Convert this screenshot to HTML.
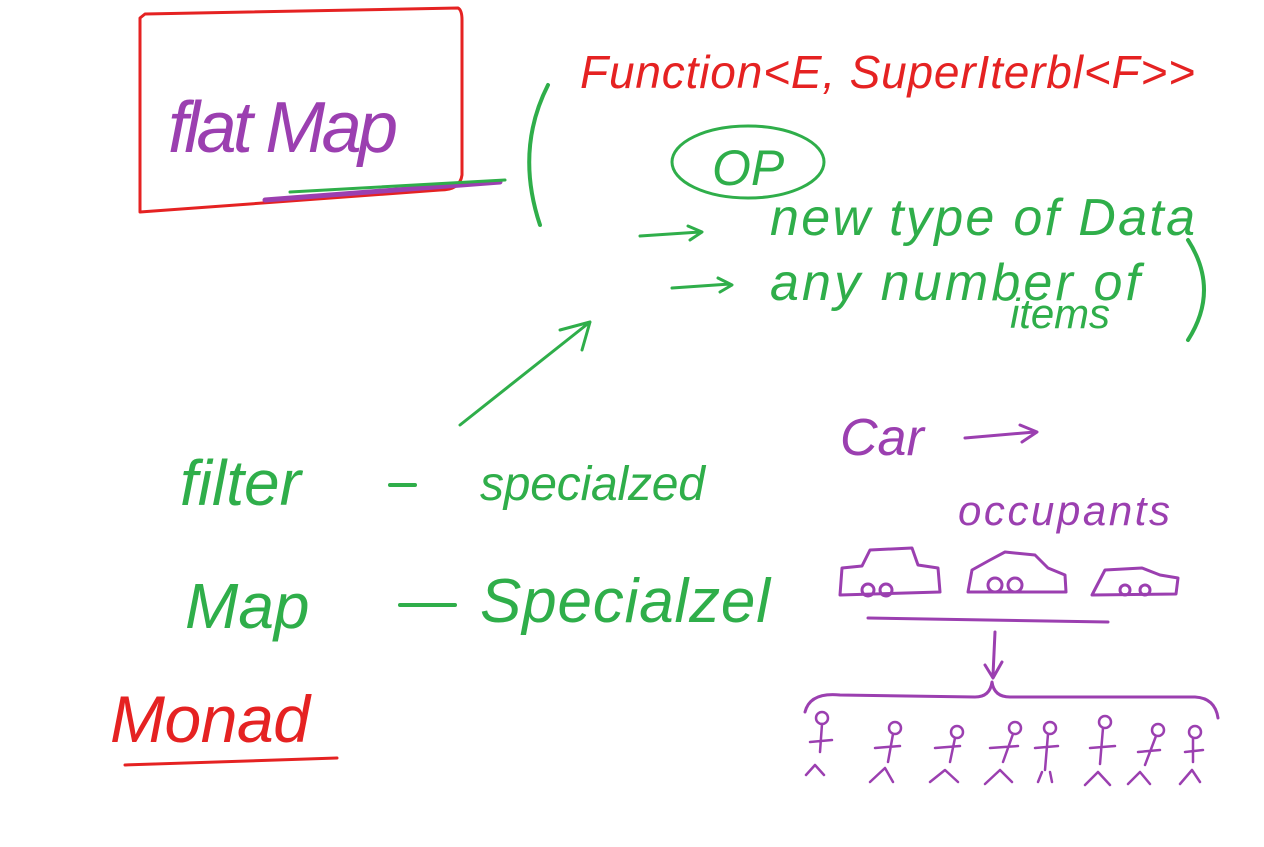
<!DOCTYPE html>
<html><head><meta charset="utf-8"><style>
html,body{margin:0;padding:0;background:#fff;width:1264px;height:847px;overflow:hidden}
svg{display:block}
text{font-family:"Liberation Sans",sans-serif;font-style:italic}
</style></head><body>
<svg width="1264" height="847" viewBox="0 0 1264 847" fill="none" stroke-linecap="round" stroke-linejoin="round">
<rect x="0" y="0" width="1264" height="847" fill="#fff" stroke="none"/>
<g>
<path d="M145 14 L458 8 Q462 10 462 20 L462 175 Q460 190 440 190 L140 212 L140 18 Z" stroke="#e52222" stroke-width="3"/>
<text x="168" y="152" font-size="72" fill="#9b3fb0" stroke="none" textLength="230">flat Map</text>
<path d="M265 200 L500 182" stroke="#9b3fb0" stroke-width="5"/>
<path d="M290 192 L505 180" stroke="#2fae4a" stroke-width="3"/>
</g>
<text x="580" y="88" font-size="46" fill="#e52222" stroke="none" textLength="615">Function&lt;E, SuperIterbl&lt;F&gt;&gt;</text>
<path d="M548 85 Q515 150 540 225" stroke="#2fae4a" stroke-width="4"/>
<ellipse cx="748" cy="162" rx="76" ry="36" stroke="#2fae4a" stroke-width="3"/>
<text x="712" y="185" font-size="50" fill="#2fae4a" stroke="none">OP</text>
<path d="M640 236 L700 232 M688 226 L702 232 L690 240" stroke="#2fae4a" stroke-width="3"/>
<text x="770" y="235" font-size="52" fill="#2fae4a" stroke="none" textLength="425">new type of Data</text>
<path d="M672 288 L730 284 M718 278 L732 285 L720 292" stroke="#2fae4a" stroke-width="3"/>
<text x="770" y="300" font-size="52" fill="#2fae4a" stroke="none" textLength="370">any number of</text>
<text x="1010" y="328" font-size="42" fill="#2fae4a" stroke="none" textLength="100">items</text>
<path d="M1188 240 Q1220 290 1188 340" stroke="#2fae4a" stroke-width="4"/>
<path d="M460 425 L590 322 M560 330 L590 322 L582 350" stroke="#2fae4a" stroke-width="3"/>
<text x="180" y="505" font-size="64" fill="#2fae4a" stroke="none">filter</text>
<path d="M390 485 L415 485" stroke="#2fae4a" stroke-width="4"/>
<text x="480" y="500" font-size="48" fill="#2fae4a" stroke="none" textLength="225">specialzed</text>
<text x="185" y="628" font-size="64" fill="#2fae4a" stroke="none">Map</text>
<path d="M400 605 L455 605" stroke="#2fae4a" stroke-width="4"/>
<text x="480" y="622" font-size="62" fill="#2fae4a" stroke="none" textLength="290">Specialzel</text>
<text x="110" y="742" font-size="66" fill="#e52222" stroke="none" textLength="200">Monad</text>
<path d="M125 765 L337 758" stroke="#e52222" stroke-width="3"/>
<text x="840" y="455" font-size="52" fill="#9b3fb0" stroke="none">Car</text>
<path d="M965 438 L1035 432 M1020 425 L1037 432 L1022 442" stroke="#9b3fb0" stroke-width="3"/>
<text x="958" y="525" font-size="42" fill="#9b3fb0" stroke="none" textLength="212">occupants</text>
<g stroke="#9b3fb0" stroke-width="3">
<path d="M840 595 L842 568 L862 566 L870 550 L912 548 L918 565 L938 568 L940 592 Z"/><circle cx="868" cy="590" r="6"/><circle cx="886" cy="590" r="6"/>
<path d="M968 592 L972 570 L990 560 L1005 552 L1035 555 L1048 568 L1065 575 L1066 592 Z"/><circle cx="995" cy="585" r="7"/><circle cx="1015" cy="585" r="7"/>
<path d="M1092 595 L1105 570 L1142 568 L1160 575 L1178 578 L1176 594 Z"/><circle cx="1125" cy="590" r="5"/><circle cx="1145" cy="590" r="5"/>
</g>
<path d="M868 618 L1108 622" stroke="#9b3fb0" stroke-width="3"/>
<path d="M995 632 L993 675 M985 665 L993 678 L1002 662" stroke="#9b3fb0" stroke-width="3"/>
<path d="M805 712 Q810 692 840 695 L975 697 Q990 697 992 682 Q994 697 1010 697 L1195 697 Q1215 698 1218 718" stroke="#9b3fb0" stroke-width="3"/>
<g stroke="#9b3fb0" stroke-width="2.5">
<g><circle cx="822" cy="718" r="6"/><path d="M822 724 L820 752 M810 742 L832 740 M806 775 L815 765 L824 775"/></g>
<g><circle cx="895" cy="728" r="6"/><path d="M893 734 L888 762 M875 748 L900 746 M870 782 L885 768 L893 782"/></g>
<g><circle cx="957" cy="732" r="6"/><path d="M955 738 L950 762 M935 748 L960 746 M930 782 L945 770 L958 782"/></g>
<g><circle cx="1015" cy="728" r="6"/><path d="M1013 734 L1003 762 M990 748 L1018 746 M985 784 L1000 770 L1012 782"/></g>
<g><circle cx="1050" cy="728" r="6"/><path d="M1048 734 L1045 770 M1035 748 L1058 746 M1038 782 L1042 772 M1052 782 L1050 772"/></g>
<g><circle cx="1105" cy="722" r="6"/><path d="M1103 728 L1100 764 M1090 748 L1115 746 M1085 785 L1098 772 L1110 785"/></g>
<g><circle cx="1158" cy="730" r="6"/><path d="M1156 736 L1145 765 M1138 752 L1160 750 M1128 784 L1140 772 L1150 784"/></g>
<g><circle cx="1195" cy="732" r="6"/><path d="M1193 738 L1193 762 M1185 752 L1203 750 M1180 784 L1192 770 L1200 782"/></g>
</g>
</svg>
</body></html>
